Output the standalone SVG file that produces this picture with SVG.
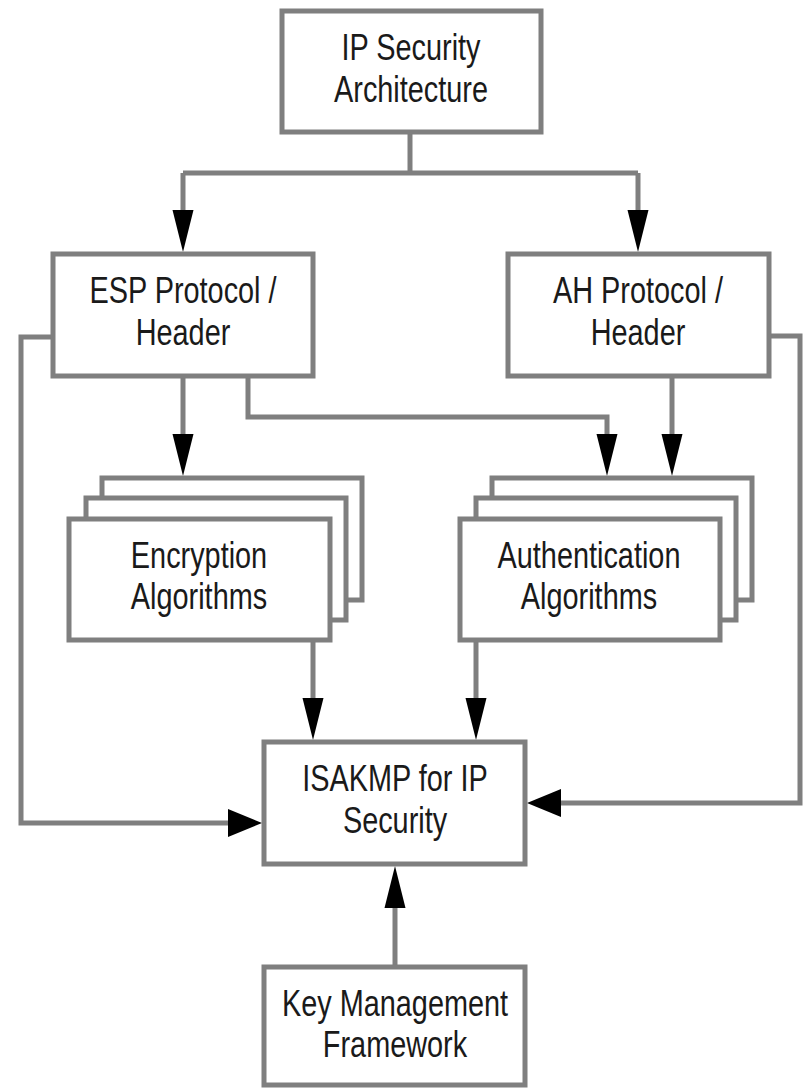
<svg xmlns="http://www.w3.org/2000/svg" width="808" height="1088" viewBox="0 0 808 1088">
<style>
.box{fill:#fff;stroke:#7f7f7f;stroke-width:5}
.ln{fill:none;stroke:#7f7f7f;stroke-width:5}
.t{font-family:"Liberation Sans",Arial,sans-serif;font-size:37px;fill:#1a1a1a;text-anchor:middle}
</style>
<defs>
<marker id="av" markerUnits="userSpaceOnUse" markerWidth="44" markerHeight="26" viewBox="0 0 44 26" refX="0" refY="13" orient="auto" overflow="visible">
<path d="M-2,2.5 L40,13 L-2,23.5 Z" fill="#000"/>
</marker>
<marker id="ah" markerUnits="userSpaceOnUse" markerWidth="36" markerHeight="32" viewBox="0 0 36 32" refX="0" refY="16" orient="auto" overflow="visible">
<path d="M-2,2 L32,16 L-2,30 Z" fill="#000"/>
</marker>
</defs>
<rect width="808" height="1088" fill="#fff"/>
<g id="connectors">
<path class="ln" d="M410,132 V173"/>
<path class="ln" d="M183,173 H638"/>
<path class="ln" d="M183,173 V212" marker-end="url(#av)"/>
<path class="ln" d="M638,173 V212" marker-end="url(#av)"/>
<path class="ln" d="M183,376 V436" marker-end="url(#av)"/>
<path class="ln" d="M248,376 V417 H607 V436" marker-end="url(#av)"/>
<path class="ln" d="M672,376 V436" marker-end="url(#av)"/>
<path class="ln" d="M53,337 H21 V823 H230" marker-end="url(#ah)"/>
<path class="ln" d="M769,336 H800 V803 H559" marker-end="url(#ah)"/>
<path class="ln" d="M313,640 V700" marker-end="url(#av)"/>
<path class="ln" d="M476,640 V700" marker-end="url(#av)"/>
<path class="ln" d="M395,967 V906" marker-end="url(#av)"/>
</g>
<g id="ip-security-architecture">
<rect class="box" x="282" y="11" width="259" height="121"/>
<text class="t" transform="matrix(0.78 0 0 1 411 0)" x="0" y="60">IP Security</text>
<text class="t" transform="matrix(0.78 0 0 1 411 0)" x="0" y="102">Architecture</text>
</g>
<g id="esp-protocol">
<rect class="box" x="53" y="254" width="260" height="122"/>
<text class="t" transform="matrix(0.78 0 0 1 183 0)" x="0" y="303">ESP Protocol /</text>
<text class="t" transform="matrix(0.78 0 0 1 183 0)" x="0" y="345">Header</text>
</g>
<g id="ah-protocol">
<rect class="box" x="508" y="254" width="261" height="122"/>
<text class="t" transform="matrix(0.78 0 0 1 638 0)" x="0" y="303">AH Protocol /</text>
<text class="t" transform="matrix(0.78 0 0 1 638 0)" x="0" y="345">Header</text>
</g>
<g id="encryption-algorithms">
<rect class="box" x="102" y="478" width="260" height="122"/>
<rect class="box" x="86" y="498" width="260" height="122"/>
<rect class="box" x="69" y="519" width="261" height="121"/>
<text class="t" transform="matrix(0.78 0 0 1 199 0)" x="0" y="568">Encryption</text>
<text class="t" transform="matrix(0.78 0 0 1 199 0)" x="0" y="609">Algorithms</text>
</g>
<g id="authentication-algorithms">
<rect class="box" x="492" y="478" width="260" height="122"/>
<rect class="box" x="476" y="498" width="260" height="122"/>
<rect class="box" x="460" y="519" width="260" height="121"/>
<text class="t" transform="matrix(0.78 0 0 1 589 0)" x="0" y="568">Authentication</text>
<text class="t" transform="matrix(0.78 0 0 1 589 0)" x="0" y="609">Algorithms</text>
</g>
<g id="isakmp">
<rect class="box" x="264" y="742" width="261" height="122"/>
<text class="t" transform="matrix(0.78 0 0 1 395 0)" x="0" y="791">ISAKMP for IP</text>
<text class="t" transform="matrix(0.78 0 0 1 395 0)" x="0" y="833">Security</text>
</g>
<g id="key-management-framework">
<rect class="box" x="264" y="967" width="261" height="118"/>
<text class="t" transform="matrix(0.78 0 0 1 395 0)" x="0" y="1016">Key Management</text>
<text class="t" transform="matrix(0.78 0 0 1 395 0)" x="0" y="1057">Framework</text>
</g>
</svg>
